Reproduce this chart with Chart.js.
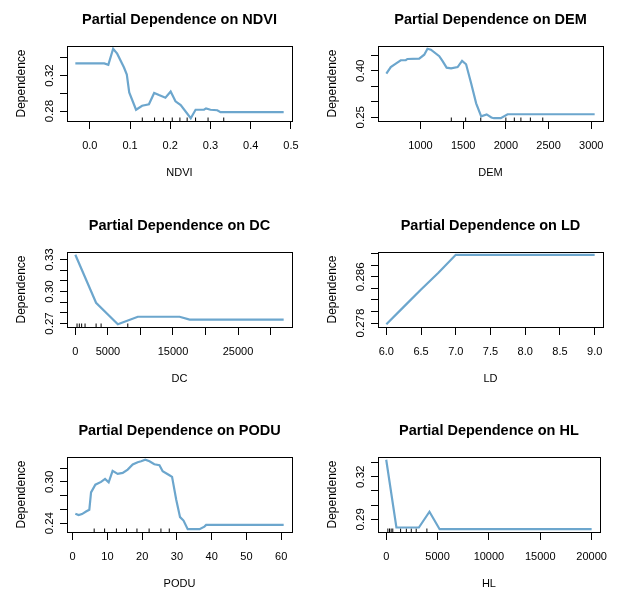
<!DOCTYPE html>
<html>
<head>
<meta charset="utf-8">
<script src="https://cdn.jsdelivr.net/npm/chart.js@4.4.1/dist/chart.umd.min.js"></script>
<style>
  html, body { margin: 0; padding: 0; background: #fff; }
  #wrap { position: relative; width: 618px; height: 589px; overflow: hidden; }
  .panel { position: absolute; height: 206px; }
  .left { left: 0; width: 311px; }
  .right { left: 311px; width: 307px; }
</style>
</head>
<body>
<div id="wrap">
  <div class="panel left" style="top:0"><canvas id="ndvi"></canvas></div>
  <div class="panel right" style="top:0"><canvas id="dem"></canvas></div>
  <div class="panel left" style="top:206px"><canvas id="dc"></canvas></div>
  <div class="panel right" style="top:206px"><canvas id="ld"></canvas></div>
  <div class="panel left" style="top:411px"><canvas id="podu"></canvas></div>
  <div class="panel right" style="top:411px"><canvas id="hl"></canvas></div>
</div>
<script>
// NDVI
const ndviX = [-0.036, 0.036, 0.046, 0.058, 0.068, 0.085, 0.092, 0.098, 0.115, 0.130, 0.147, 0.160, 0.172, 0.188, 0.201, 0.213, 0.226, 0.251, 0.263, 0.284, 0.289, 0.300, 0.317, 0.325, 0.482];
const ndviY = [0.3335, 0.3335, 0.332, 0.350, 0.3445, 0.329, 0.321, 0.301, 0.2815, 0.286, 0.2876, 0.3004, 0.298, 0.295, 0.3019, 0.291, 0.2868, 0.272, 0.2815, 0.2815, 0.283, 0.2815, 0.281, 0.2789, 0.2789];
const ndviRug = [0.1305, 0.161, 0.183, 0.205, 0.224, 0.242, 0.263, 0.294, 0.333];
const ndviXTicks = [0, 0.1, 0.2, 0.3, 0.4, 0.5];
const ndviXLabels = ["0.0", "0.1", "0.2", "0.3", "0.4", "0.5"];
const ndviYTicks = [0.28, 0.30, 0.32, 0.34];
const ndviYLabels = ["0.28", "", "0.32", ""];

// DEM
const demX = [600, 652, 711, 769, 828, 847, 985, 1044, 1082, 1122, 1220, 1259, 1306, 1358, 1435, 1487, 1534, 1593, 1652, 1711, 1775, 1830, 1860, 1940, 2020, 3040];
const demY = [0.3906, 0.412, 0.423, 0.434, 0.434, 0.438, 0.439, 0.452, 0.471, 0.468, 0.447, 0.431, 0.410, 0.408, 0.412, 0.432, 0.421, 0.360, 0.295, 0.253, 0.259, 0.249, 0.2468, 0.2468, 0.2597, 0.2597];
const demRug = [1361, 1529, 1706, 2000, 2099, 2176, 2287, 2432];
const demXTicks = [1000, 1500, 2000, 2500, 3000];
const demXLabels = ["1000", "1500", "2000", "2500", "3000"];
const demYTicks = [0.25, 0.30, 0.35, 0.40, 0.45];
const demYLabels = ["0.25", "", "", "0.40", ""];

// DC
const dcX = [0, 3185, 6530, 9600, 16020, 17560, 32010];
const dcY = [0.3344, 0.2894, 0.2693, 0.2763, 0.2763, 0.2737, 0.2737];
const dcRug = [262, 616, 970, 1494, 3190, 3960, 8060];
const dcXTicks = [0, 5000, 10000, 15000, 20000, 25000, 30000];
const dcXLabels = ["0", "5000", "", "15000", "", "25000", ""];
const dcYTicks = [0.27, 0.28, 0.29, 0.30, 0.31, 0.32, 0.33];
const dcYLabels = ["0.27", "", "", "0.30", "", "", "0.33"];

// LD
const ldX = [6.0, 6.25, 6.5, 6.75, 7.0, 7.5, 8.0, 8.5, 9.0];
const ldY = [0.2778, 0.2808, 0.2838, 0.2867, 0.2898, 0.2898, 0.2898, 0.2898, 0.2898];
const ldRug = [];
const ldXTicks = [6.0, 6.5, 7.0, 7.5, 8.0, 8.5, 9.0];
const ldXLabels = ["6.0", "6.5", "7.0", "7.5", "8.0", "8.5", "9.0"];
const ldYTicks = [0.278, 0.280, 0.282, 0.284, 0.286, 0.288, 0.290];
const ldYLabels = ["0.278", "", "", "", "0.286", "", ""];

// PODU
const poduX = [0.78, 1.73, 2.7, 3.86, 4.8, 5.3, 6.54, 8.18, 9.33, 10.37, 11.5, 12.96, 14.4, 15.84, 17.28, 18.7, 19.7, 20.9, 22.1, 23.5, 24.97, 25.9, 27.85, 28.6, 29.8, 30.9, 31.9, 33.1, 36.5, 37.9, 38.4, 60.7];
const poduY = [0.2536, 0.2517, 0.2532, 0.257, 0.2595, 0.2848, 0.296, 0.300, 0.3044, 0.2994, 0.316, 0.3117, 0.3131, 0.318, 0.3253, 0.3287, 0.330, 0.3322, 0.330, 0.3257, 0.3243, 0.3155, 0.3097, 0.3073, 0.274, 0.2488, 0.2438, 0.2312, 0.2312, 0.235, 0.2375, 0.2375];
const poduRug = [6.2, 9.2, 12.6, 15.5, 18.5, 22.0, 25.4, 27.8];
const poduXTicks = [0, 10, 20, 30, 40, 50, 60];
const poduXLabels = ["0", "10", "20", "30", "40", "50", "60"];
const poduYTicks = [0.24, 0.26, 0.28, 0.30, 0.32];
const poduYLabels = ["0.24", "", "", "0.30", ""];

// HL
const hlX = [0, 992, 3180, 4210, 5200, 20000];
const hlY = [0.3319, 0.2843, 0.2843, 0.2954, 0.2831, 0.2831];
const hlRug = [160, 320, 480, 640, 1400, 1960, 2440, 2920, 3960];
const hlXTicks = [0, 5000, 10000, 15000, 20000];
const hlXLabels = ["0", "5000", "10000", "15000", "20000"];
const hlYTicks = [0.29, 0.30, 0.31, 0.32, 0.33];
const hlYLabels = ["0.29", "", "", "0.32", ""];

const lineColor = "#6ca6cd";
const FONT = "'Liberation Sans', Arial, sans-serif";
Chart.defaults.font.family = FONT;
Chart.defaults.color = "#000";

// R adds 4% on each side of the data range
function padRange(vals) {
  const lo = Math.min(...vals), hi = Math.max(...vals);
  const d = (hi - lo) * 0.04;
  return [lo - d, hi + d];
}

// box around the plot + rotated y tick labels, like base R graphics
const rFrame = {
  id: "rFrame",
  afterDraw(chart) {
    const { ctx, chartArea: a, scales } = chart;
    ctx.save();
    ctx.strokeStyle = "#000";
    ctx.lineWidth = 1;
    ctx.strokeRect(Math.round(a.left) + 0.5, Math.round(a.top) + 0.5,
      Math.round(a.right - a.left), Math.round(a.bottom - a.top));
    const y = scales.y;
    ctx.fillStyle = "#000";
    ctx.font = "11.5px " + FONT;
    ctx.textAlign = "center";
    ctx.textBaseline = "middle";
    y.ticks.forEach(t => {
      if (!t.label) return;
      ctx.save();
      ctx.translate(a.left - 17.5, y.getPixelForValue(t.value));
      ctx.rotate(-Math.PI / 2);
      ctx.fillText(t.label, 0, 0);
      ctx.restore();
    });
    ctx.restore();
  }
};

function panel(id, name, xs, ys, rug, xTicks, xLabels, yTicks, yLabels) {
  const canvas = document.getElementById(id);
  const W = canvas.parentNode.clientWidth;
  const H = 206;
  const [xMin, xMax] = padRange(xs);
  const [yMin, yMax] = padRange(ys);

  new Chart(canvas, {
    type: "scatter",
    data: {
      datasets: [
        {
          data: xs.map((v, i) => ({ x: v, y: ys[i] })),
          showLine: true,
          borderColor: lineColor,
          borderWidth: 2.2,
          pointRadius: 0,
          tension: 0,
        },
        {
          // deciles rug
          data: rug.map(v => ({ x: v, y: yMin })),
          pointStyle: "line",
          rotation: 90,
          pointRadius: 3.5,
          borderColor: "#000",
          borderWidth: 1,
        },
      ],
    },
    options: {
      responsive: true,
      maintainAspectRatio: false,
      animation: false,
      events: [],
      layout: { padding: { left: 0, right: W - 292, top: 0, bottom: 0 } },
      plugins: {
        legend: { display: false },
        tooltip: { enabled: false },
        title: {
          display: true,
          text: "Partial Dependence on " + name,
          fullSize: false,
          color: "#000",
          font: { size: 14.5, weight: "bold" },
          padding: { top: 11.3, bottom: 17.3 },
        },
      },
      scales: {
        x: {
          type: "linear",
          min: xMin,
          max: xMax,
          afterBuildTicks: s => { s.ticks = xTicks.map(v => ({ value: v })); },
          afterFit: s => { s.height = H - 121; },
          ticks: {
            autoSkip: false,
            maxRotation: 0,
            padding: 10.4,
            color: "#000",
            font: { size: 11 },
            callback: (v, i) => xLabels[i],
          },
          grid: { drawOnChartArea: false, tickLength: 8, color: "#000" },
          border: { display: false },
          title: {
            display: true,
            text: name,
            color: "#000",
            font: { size: 11 },
            padding: { top: 0, bottom: H - 173.3 - 6.6 },
          },
        },
        y: {
          type: "linear",
          min: yMin,
          max: yMax,
          afterBuildTicks: s => { s.ticks = yTicks.map(v => ({ value: v })); },
          afterFit: s => { s.width = 67; },
          ticks: { display: false, callback: (v, i) => yLabels[i] },
          grid: { drawOnChartArea: false, tickLength: 7, color: "#000" },
          border: { display: false },
          title: {
            display: true,
            text: "Dependence",
            color: "#000",
            font: { size: 12 },
            padding: { top: 14, bottom: 0 },
          },
        },
      },
    },
    plugins: [rFrame],
  });
}

panel("ndvi", "NDVI", ndviX, ndviY, ndviRug, ndviXTicks, ndviXLabels, ndviYTicks, ndviYLabels);
panel("dem", "DEM", demX, demY, demRug, demXTicks, demXLabels, demYTicks, demYLabels);
panel("dc", "DC", dcX, dcY, dcRug, dcXTicks, dcXLabels, dcYTicks, dcYLabels);
panel("ld", "LD", ldX, ldY, ldRug, ldXTicks, ldXLabels, ldYTicks, ldYLabels);
panel("podu", "PODU", poduX, poduY, poduRug, poduXTicks, poduXLabels, poduYTicks, poduYLabels);
panel("hl", "HL", hlX, hlY, hlRug, hlXTicks, hlXLabels, hlYTicks, hlYLabels);
</script>
</body>
</html>
